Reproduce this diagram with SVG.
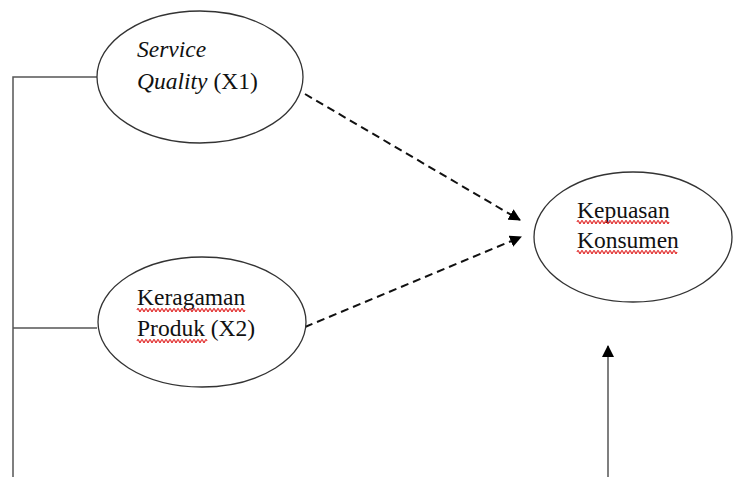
<svg xmlns="http://www.w3.org/2000/svg" width="733" height="477" viewBox="0 0 733 477">
<defs>
<style>
.node{fill:#fff;stroke:#333;stroke-width:1.3}
.t{font-family:"Liberation Serif","Times New Roman",serif;font-size:23.5px;fill:#111}
.i{font-style:italic}
.line{fill:none;stroke:#555;stroke-width:1.5}
.dash{fill:none;stroke:#111;stroke-width:2;stroke-dasharray:8 5}
.sq{fill:none;stroke:#e02020;stroke-width:1.1}
</style>
<marker id="ah" markerWidth="12" markerHeight="12" refX="11" refY="6" orient="auto" markerUnits="userSpaceOnUse">
<path d="M0,0 L12,6 L0,12 z" fill="#000"/>
</marker>
<marker id="ah2" markerWidth="12" markerHeight="12" refX="11" refY="6" orient="auto" markerUnits="userSpaceOnUse">
<path d="M0,0 L12,6 L0,12 z" fill="#000"/>
</marker>
</defs>
<rect width="733" height="477" fill="#fff"/>
<g id="connectors">
<path class="line" d="M13,477 V77 H97"/>
<path class="line" d="M13,328 H97"/>
<path class="dash" d="M305,94 L520,220" marker-end="url(#ah)"/>
<path class="dash" d="M305,327 L521,237" marker-end="url(#ah)"/>
<path class="line" d="M608,477 V346" marker-end="url(#ah2)"/>
</g>
<g id="node-x1">
<ellipse class="node" cx="200" cy="77" rx="103" ry="66"/>
<text class="t" x="137" y="57"><tspan class="i">Service</tspan></text>
<text class="t" x="137" y="89"><tspan class="i">Quality</tspan> (X1)</text>
</g>
<g id="node-x2">
<ellipse class="node" cx="202" cy="322" rx="104" ry="65"/>
<text class="t" x="137" y="305">Keragaman</text>
<text class="t" x="137" y="336">Produk (X2)</text>
<path class="sq" d="M137,310 q1,-3 2,0 t2,0 t2,0 t2,0 t2,0 t2,0 t2,0 t2,0 t2,0 t2,0 t2,0 t2,0 t2,0 t2,0 t2,0 t2,0 t2,0 t2,0 t2,0 t2,0 t2,0 t2,0 t2,0 t2,0 t2,0 t2,0 t2,0 t2,0 t2,0 t2,0 t2,0 t2,0 t2,0 t2,0 t2,0 t2,0 t2,0 t2,0 t2,0 t2,0 t2,0 t2,0 t2,0 t2,0 t2,0 t2,0 t2,0 t2,0 t2,0 t2,0 t2,0 t2,0 t2,0 t2,0"/>
<path class="sq" d="M137,341 q1,-3 2,0 t2,0 t2,0 t2,0 t2,0 t2,0 t2,0 t2,0 t2,0 t2,0 t2,0 t2,0 t2,0 t2,0 t2,0 t2,0 t2,0 t2,0 t2,0 t2,0 t2,0 t2,0 t2,0 t2,0 t2,0 t2,0 t2,0 t2,0 t2,0 t2,0 t2,0 t2,0 t2,0 t2,0 t2,0"/>
</g>
<g id="node-y">
<ellipse class="node" cx="633" cy="237" rx="99" ry="65"/>
<text class="t" x="577" y="218">Kepuasan</text>
<text class="t" x="577" y="248">Konsumen</text>
<path class="sq" d="M577,222 q1,-3 2,0 t2,0 t2,0 t2,0 t2,0 t2,0 t2,0 t2,0 t2,0 t2,0 t2,0 t2,0 t2,0 t2,0 t2,0 t2,0 t2,0 t2,0 t2,0 t2,0 t2,0 t2,0 t2,0 t2,0 t2,0 t2,0 t2,0 t2,0 t2,0 t2,0 t2,0 t2,0 t2,0 t2,0 t2,0 t2,0 t2,0 t2,0 t2,0 t2,0 t2,0 t2,0 t2,0 t2,0 t2,0 t2,0"/>
<path class="sq" d="M577,252 q1,-3 2,0 t2,0 t2,0 t2,0 t2,0 t2,0 t2,0 t2,0 t2,0 t2,0 t2,0 t2,0 t2,0 t2,0 t2,0 t2,0 t2,0 t2,0 t2,0 t2,0 t2,0 t2,0 t2,0 t2,0 t2,0 t2,0 t2,0 t2,0 t2,0 t2,0 t2,0 t2,0 t2,0 t2,0 t2,0 t2,0 t2,0 t2,0 t2,0 t2,0 t2,0 t2,0 t2,0 t2,0 t2,0 t2,0 t2,0 t2,0 t2,0 t2,0"/>
</g>
</svg>
